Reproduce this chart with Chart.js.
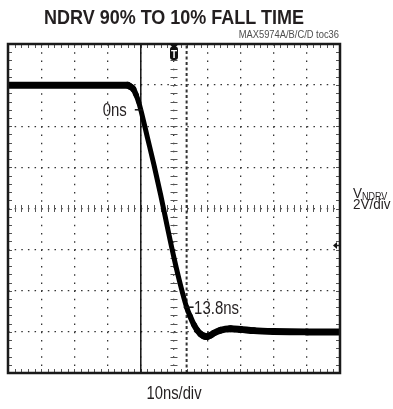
<!DOCTYPE html>
<html>
<head>
<meta charset="utf-8">
<script src="https://cdn.jsdelivr.net/npm/chart.js@4/dist/chart.umd.min.js"></script>
<style>
  html, body { margin: 0; padding: 0; background: #fff; overflow: hidden; }
  #wrap { position: relative; width: 393px; height: 409px; overflow: hidden;
          font-family: "Liberation Sans", Arial, sans-serif; color: #231f20; }
  #wrap canvas { position: absolute; left: 0; top: 0; }
  .txt { position: absolute; white-space: nowrap; line-height: 1; }
  #title { left: -26px; width: 400px; top: 5.5px; text-align: center; font-size: 21px; font-weight: bold;
           transform: scaleX(0.857); }
  #partno { left: -61px; width: 400px; top: 28.5px; text-align: right; font-size: 11px; color: #4d4d4d;
            transform: scaleX(0.85); transform-origin: right; }
  #vlabel { left: 353px; top: 184.5px; font-size: 15px; transform: scaleX(0.9); transform-origin: left; }
  #vlabel span { font-size: 10px; position: relative; top: 2px; }
  #vscale { left: 353px; top: 196.3px; font-size: 15px; transform: scaleX(0.9); transform-origin: left; }
  #hscale { left: -26.5px; width: 400px; top: 385.2px; text-align: center; font-size: 17.5px;
            transform: scaleX(0.845); }
</style>
</head>
<body>
<div id="wrap">
  <canvas id="scope" width="393" height="409"></canvas>
  <div class="txt" id="title">NDRV 90% TO 10% FALL TIME</div>
  <div class="txt" id="partno">MAX5974A/B/C/D toc36</div>
  <div class="txt" id="vlabel">V<span>NDRV</span></div>
  <div class="txt" id="vscale">2V/div</div>
  <div class="txt" id="hscale">10ns/div</div>
</div>
<script>
// NDRV falling edge, 10ns/div horizontal, 2V/div vertical
const timeNs = [-40, -30, -20, -10, -5, -4, -3.3, -2.3, -1.4, -0.7,
                0, 2, 4, 6, 8, 10, 12, 13.8,
                14.8, 16, 17, 18, 19, 20, 21, 22,
                24, 27, 30, 34, 40, 50, 60];
const ndrvVolts = [12.0, 12.0, 12.0, 12.0, 12.0, 12.0, 11.94, 11.82, 11.52, 11.2,
                   10.8, 9.45, 8.1, 6.65, 5.1, 3.6, 2.25, 1.2,
                   0.78, 0.35, 0.08, -0.1, -0.2, -0.23, -0.16, -0.06,
                   0.08, 0.15, 0.12, 0.06, 0.02, 0, 0];

// 90% / 10% cursors
const markerTimes = [0, 13.8];
const markerLevels = [10.8, 1.2];
const markerLabels = ['0ns', '13.8ns'];

// screen range: 10 x 10ns, 8 x 2V
const timeRange = [-40, 60];
const voltRange = [-2, 14];
const centerTime = 10;
const centerVolts = 6;
const trigLevel = 4.2;

const tracePoints = timeNs.map((t, i) => ({ x: t, y: ndrvVolts[i] }));
const cursorLine = t => [{ x: t, y: voltRange[0] }, { x: t, y: voltRange[1] }];

const scopeOverlay = {
  id: 'scopeOverlay',
  beforeDatasetsDraw(chart) {
    const { ctx, chartArea: a, scales: { x, y } } = chart;
    const cx = x.getPixelForValue(centerTime);
    const cy = y.getPixelForValue(centerVolts);
    ctx.save();
    ctx.strokeStyle = '#555';
    ctx.lineWidth = 1;
    ctx.beginPath();
    // minor ticks: center axes and inside the frame
    for (let t = timeRange[0] + 2; t < timeRange[1]; t += 2) {
      const px = Math.round(x.getPixelForValue(t)) + 0.5;
      ctx.moveTo(px, cy - 3.5); ctx.lineTo(px, cy + 3.5);
      ctx.moveTo(px, a.top); ctx.lineTo(px, a.top + 4);
      ctx.moveTo(px, a.bottom); ctx.lineTo(px, a.bottom - 4);
    }
    for (let v = voltRange[0] + 0.4; v < voltRange[1] - 0.01; v += 0.4) {
      const py = Math.round(y.getPixelForValue(v)) + 0.5;
      ctx.moveTo(cx - 3.5, py); ctx.lineTo(cx + 3.5, py);
      ctx.moveTo(a.left, py); ctx.lineTo(a.left + 4, py);
      ctx.moveTo(a.right, py); ctx.lineTo(a.right - 4, py);
    }
    ctx.stroke();
    ctx.restore();
  },
  afterDatasetsDraw(chart) {
    const { ctx, chartArea: a, scales: { x, y } } = chart;
    ctx.save();
    // frame
    ctx.strokeStyle = '#1a1a1a';
    ctx.lineWidth = 2.5;
    ctx.strokeRect(a.left, a.top, a.right - a.left, a.bottom - a.top);

    // trigger position marker
    const cx = x.getPixelForValue(centerTime);
    ctx.fillStyle = '#111';
    ctx.beginPath();
    ctx.moveTo(cx - 4.5, a.top); ctx.lineTo(cx + 4.5, a.top); ctx.lineTo(cx, a.top + 5);
    ctx.fill();
    ctx.beginPath();
    ctx.roundRect(cx - 4, a.top + 2.5, 8, 13.5, 3);
    ctx.fill();
    ctx.fillStyle = '#fff';
    ctx.font = 'bold 10px "Liberation Sans", Arial, sans-serif';
    ctx.textAlign = 'center';
    ctx.fillText('T', cx, a.top + 13.5);

    // trigger level marker
    const ty = y.getPixelForValue(trigLevel);
    ctx.fillStyle = '#111';
    ctx.beginPath();
    ctx.moveTo(a.right - 7, ty); ctx.lineTo(a.right - 3, ty - 3.5); ctx.lineTo(a.right - 3, ty + 3.5);
    ctx.fill();
    ctx.lineWidth = 1.5;
    ctx.beginPath();
    ctx.moveTo(a.right - 4, ty); ctx.lineTo(a.right, ty);
    ctx.stroke();

    // crossing marks and time labels
    const fs = 18;
    ctx.font = fs + 'px "Liberation Sans", Arial, sans-serif';
    markerTimes.forEach((t, i) => {
      const px = x.getPixelForValue(t);
      const py = y.getPixelForValue(markerLevels[i]);
      const left = i === 0;
      ctx.strokeStyle = '#111';
      ctx.lineWidth = 1.5;
      ctx.beginPath();
      ctx.moveTo(left ? px - 6 : px - 3, py);
      ctx.lineTo(left ? px + 2 : px + 7, py);
      ctx.stroke();
      ctx.fillStyle = '#231f20';
      ctx.textAlign = left ? 'right' : 'left';
      ctx.save();
      ctx.translate(left ? px - 14 : px + 7.5, py + 0.358 * fs);
      ctx.scale(0.83, 1);
      ctx.fillText(markerLabels[i], 0, 0);
      ctx.restore();
    });
    ctx.restore();
  }
};

new Chart(document.getElementById('scope'), {
  type: 'line',
  data: {
    datasets: [
      {
        data: tracePoints,
        borderColor: '#000',
        pointRadius: 0,
        cubicInterpolationMode: 'monotone',
        borderJoinStyle: 'round',
        borderCapStyle: 'round',
        segment: {
          borderWidth: c => {
            const slope = Math.abs((c.p1.parsed.y - c.p0.parsed.y) / (c.p1.parsed.x - c.p0.parsed.x));
            return 7 - Math.min(1, slope / 0.5) * 2;
          }
        }
      },
      {
        data: cursorLine(markerTimes[0]),
        borderColor: '#111',
        borderWidth: 1.5,
        pointRadius: 0
      },
      {
        data: cursorLine(markerTimes[1]),
        borderColor: '#333',
        borderWidth: 2,
        borderDash: [3, 2.5],
        pointRadius: 0
      }
    ]
  },
  options: {
    responsive: false,
    animation: false,
    events: [],
    layout: { padding: { left: 8, right: 53, top: 44, bottom: 36 } },
    plugins: { legend: { display: false }, tooltip: { enabled: false } },
    scales: {
      x: {
        type: 'linear',
        min: timeRange[0], max: timeRange[1],
        ticks: { display: false, stepSize: 10 },
        grid: { color: '#333', lineWidth: 1.3, drawTicks: false },
        border: { display: false, dash: [1.5, 6.72] }
      },
      y: {
        type: 'linear',
        min: voltRange[0], max: voltRange[1],
        ticks: { display: false, stepSize: 2 },
        grid: { color: '#333', lineWidth: 1.3, drawTicks: false },
        border: { display: false, dash: [1.5, 5.14] }
      }
    }
  },
  plugins: [scopeOverlay]
});
</script>
</body>
</html>
